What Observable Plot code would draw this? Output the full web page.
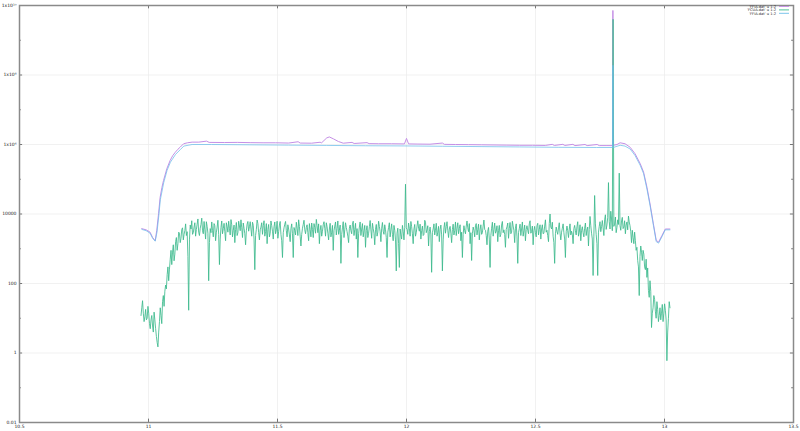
<!DOCTYPE html>
<html><head><meta charset="utf-8">
<script src="https://cdn.jsdelivr.net/npm/d3@7"></script>
<script src="https://cdn.jsdelivr.net/npm/@observablehq/plot@0.6"></script>
<style>
html,body{margin:0;padding:0;background:#fff;}
#wrap{width:800px;height:431px;}
</style></head><body><div id="wrap"></div>
<script>
const xTicks = [10.5, 11, 11.5, 12, 12.5, 13, 13.5];
const yTicks = [0.01, 1, 100, 1e4, 1e6, 1e8, 1e10];
const yTickLabels = ["0.01", "1", "100", "10000", "1x10\u2076", "1x10\u2078", "1x10\u00b9\u2070"];
const yMinorTicks = [0.1, 10, 1000, 1e5, 1e7, 1e9];
const seriesNames = ["'FFIA.dat' u 1:2", "'FCUA.dat' u 1:2", "'FFIA.dat' u 1:2"];
const seriesColors = ["#c58fe6", "#3cb98c", "#6cbde9"];

// series 1 (purple)
const ffiaX = [10.974,10.979,10.991,11.006,11.016,11.026,11.032,11.039,11.045,11.052,11.058,11.071,11.084,11.094,11.104,11.114,11.123,11.136,11.151,11.169,
11.195,11.225,11.235,11.294,11.344,11.394,11.444,11.493,11.543,11.580,11.588,11.632,11.665,11.671,11.691,11.701,11.717,11.736,11.755,11.789,11.797,
11.847,11.855,11.892,11.942,11.992,12.000,12.008,12.041,12.091,12.139,12.147,12.190,12.240,12.290,12.339,12.389,12.439,12.488,12.538,12.565,12.573,
12.606,12.614,12.645,12.653,12.692,12.700,12.739,12.747,12.777,12.7985,12.800,12.8015,12.816,12.828,12.847,12.867,12.886,12.906,12.919,12.932,12.944,
12.957,12.968,12.977,12.990,13.003,13.021];
const ffiaY = [3800,3700,3500,3000,2100,1700,3400,10200,30000,58000,91000,200000,350000,480000,600000,730000,840000,1050000,1120000,1170000,
1170000,1250000,1150000,1140000,1150000,1130000,1120000,1120000,1100000,1200000,1100000,1090000,1160000,1120000,1550000,1650000,1450000,1220000,1090000,1150000,1070000,
1130000,1060000,1050000,1050000,1040000,1500000,1040000,1030000,1020000,1100000,1010000,1000000,990000,980000,970000,960000,950000,950000,940000,1010000,940000,
1010000,940000,1010000,930000,1000000,930000,1000000,930000,930000,930000,7.2e9,950000,1000000,1120000,1050000,830000,540000,280000,160000,59000,19500,
5200,1740,1550,2400,3700,3700];

// series 2 (green), sampled every fcuaStep from fcuaX0
const fcuaX0 = 10.971, fcuaStep = 0.00298;
const fcuaY = [
12,20,32,14,8,11,18,9,10,22,14,7,5,9,12,6,4,15,9,5,
3,2,1.5,4,8,20,12,7,30,45,22,60,90,70,180,300,120,260,500,900,
350,800,1300,450,700,1600,2100,900,1400,3000,2800,1500,2000,3600,4000,1800,2600,3300,5200,2400,
3100,600,17,1800,4800,3700,6400,2600,2900,4200,5600,2300,3600,5100,7200,3000,2400,3900,5000,7600,
3300,2700,6100,3500,1900,6000,4400,2800,120,1500,3800,2900,5900,3300,2200,5300,4600,1700,3000,4200,
6600,2600,350,1900,4100,6300,2700,3800,5400,3100,1700,5600,4300,3000,6200,3900,2500,6900,4900,2200,
3400,4800,1500,3600,5700,2400,2900,6200,4500,3300,6800,4000,2100,5500,3900,2700,1300,3300,5100,6100,
3200,4300,6000,3700,2300,5800,4700,1900,250,2400,3600,6700,5300,2900,1800,3500,4200,5600,2600,4600,
6400,2300,3100,5300,1400,3600,5000,2200,2800,6300,4600,3200,1900,4300,5900,2700,3500,6200,2000,3100,
4800,6100,2600,1700,560,2900,4000,5100,6100,3300,2200,4900,3700,2500,1600,3800,5200,2700,560,4100,
3300,2500,5800,3900,2400,6800,4400,2300,1200,2600,3900,5000,6600,3500,2700,4100,4900,2900,1700,5300,
3600,2200,5500,3600,2100,5300,4100,2800,7000,4600,2900,5200,1400,3400,4700,2300,3200,4900,6000,3900,
2300,5600,4300,2800,1800,3700,5400,2200,3000,4700,900,3300,4500,5900,2500,3800,6300,2600,3400,4800,
380,2600,4000,6000,2100,3500,5600,4100,3100,2300,1500,3900,4800,3300,2700,5100,6200,2400,3600,5400,
1900,3800,560,2700,4200,5900,2400,3700,5300,2200,3300,4700,1100,3400,4600,2100,2800,4300,6500,3500,
2000,5400,3800,2800,1300,3600,5000,2300,3000,6200,4400,3100,1600,3900,5700,3200,2600,4900,3500,2100,
560,3000,4100,5600,2200,3500,5200,2600,1700,4700,3400,1800,230,2800,3900,1400,290,3700,2500,1900,
4700,3200,1800,4100,72000,4000,3600,2600,5500,3900,2300,6100,4300,2700,1400,3700,5000,2300,2900,4500,
6400,3900,3200,5100,1900,3300,4500,2400,2600,6600,5800,2900,3500,4600,1200,3100,4200,2500,210,2900,
3700,5200,2500,3400,5400,2300,3000,4400,1600,3600,4800,2500,230,1800,4000,5700,2800,4300,6000,3400,
2100,3700,4400,2800,1500,3600,5100,2500,3300,5900,2400,3900,5600,2700,3800,4900,1700,3000,560,2600,
4600,3300,2700,4500,6300,4000,3100,5300,1400,2900,460,2700,4200,3400,2200,4600,5300,2500,3600,5100,
1800,3500,4900,2600,2900,4500,6700,3600,3400,2400,1300,3200,4100,1900,290,2400,3900,5800,2300,3600,
5500,2800,3200,4600,1600,3300,4700,2200,2600,4800,6100,2900,3500,2600,1100,3600,4300,5500,2000,3800,
5700,2700,3000,6200,4500,3400,1500,3900,5200,2200,380,2900,3800,5100,2400,3700,5900,2300,3300,4800,
1700,3600,4600,3400,2700,5200,6400,2800,3100,4500,1300,3300,4400,2900,2200,4600,5400,2500,3600,4900,
1900,3700,4900,2700,2800,4500,6800,3000,3400,2400,1600,5300,10000,4200,3700,5800,2300,1500,380,2700,
4200,3200,2600,4000,5600,2800,1800,3000,3900,5200,2900,1900,560,3100,4500,3300,2100,3700,5200,2500,
3200,2600,1400,3800,4700,3300,2500,4300,6000,2300,3000,4900,1700,3400,4300,2900,2200,3900,5500,2400,
3500,4200,1200,3600,8500,4600,2800,1900,170,2300,34000,5200,2600,1400,170,3000,4400,6000,3100,4300,
6500,4000,2400,6800,9500,3600,4800,7800,80000,6000,3700,12000,7200,3300,4.0e9,4400,5100,8200,2900,4100,
6800,5000,150000,4600,3400,6300,8000,3800,4200,6400,2700,4800,5900,3500,8700,5900,4600,3100,1500,3400,
2100,1400,3000,1700,900,1100,460,300,45,600,1200,800,460,900,700,300,250,500,150,280,
63,40,120,60,5.4,14,20,45,35,16,10,30,18,8,12,20,9,14,25,8,
14,26,17,9,0.6,4,10,30,20];

// series 3 (blue)
const ffibX = [10.974,10.991,11.006,11.016,11.026,11.033,11.040,11.046,11.059,11.072,11.085,11.105,11.124,11.137,11.169,11.244,11.393,11.543,11.691,11.841,
11.991,12.140,12.289,12.439,12.588,12.737,12.7985,12.800,12.8015,12.828,12.847,12.867,12.886,12.906,12.919,12.932,12.944,12.957,12.968,12.977,12.990,13.003,13.021];
const ffibY = [3600,3300,2800,2000,1650,3000,9000,26000,80000,180000,310000,520000,720000,900000,1000000,1000000,980000,960000,940000,920000,
910000,890000,870000,850000,830000,820000,820000,1.9e8,820000,950000,900000,740000,480000,250000,145000,52000,17500,4700,1600,1450,2200,3500,3500];

const s1 = ffiaX.map((x, i) => ({x, y: ffiaY[i]}));
const s2 = fcuaY.map((y, i) => ({x: fcuaX0 + i * fcuaStep, y}));
const s3 = ffibX.map((x, i) => ({x, y: ffibY[i]}));

const chart = Plot.plot({
  width: 800, height: 431,
  marginLeft: 19, marginRight: 7, marginTop: 5, marginBottom: 9,
  style: {fontSize: "4.5px", fontFamily: "DejaVu Sans, sans-serif", color: "#222", background: "#fff"},
  x: {domain: [10.5, 13.5], ticks: xTicks, tickFormat: d => String(d), tickSize: 0, tickPadding: 2.5, label: null},
  y: {type: "log", domain: [0.01, 1e10], ticks: yTicks, tickFormat: d => yTickLabels[yTicks.indexOf(d)], tickSize: 0, tickPadding: 3, label: null},
  marks: [
    Plot.gridX(xTicks, {stroke: "#ededed", strokeOpacity: 1, strokeWidth: 0.8}),
    Plot.gridY(yTicks, {stroke: "#ededed", strokeOpacity: 1, strokeWidth: 0.8}),
    Plot.ruleY(yTicks, {x1: 10.5, x2: 10.512, stroke: "#555", strokeWidth: 0.8}),
    Plot.ruleY(yTicks, {x1: 13.488, x2: 13.5, stroke: "#555", strokeWidth: 0.8}),
    Plot.ruleY(yMinorTicks, {x1: 10.5, x2: 10.507, stroke: "#555", strokeWidth: 0.8}),
    Plot.ruleY(yMinorTicks, {x1: 13.493, x2: 13.5, stroke: "#555", strokeWidth: 0.8}),
    Plot.ruleX(xTicks, {y1: 0.01, y2: 0.0125, stroke: "#555", strokeWidth: 0.8}),
    Plot.ruleX(xTicks, {y1: 8e9, y2: 1e10, stroke: "#555", strokeWidth: 0.8}),
    Plot.line(s1, {x: "x", y: "y", stroke: seriesColors[0], strokeWidth: 1}),
    Plot.line(s2, {x: "x", y: "y", stroke: seriesColors[1], strokeWidth: 0.85}),
    Plot.line(s3, {x: "x", y: "y", stroke: seriesColors[2], strokeWidth: 1, strokeOpacity: 0.75}),
    Plot.frame({stroke: "#8a8a8a", strokeWidth: 1.5})
  ]
});
document.getElementById("wrap").appendChild(chart);

// legend (top right, inside frame)
const svg = d3.select(chart);
const lg = svg.append("g").attr("font-family", "DejaVu Sans, sans-serif").attr("font-size", "3.6px").attr("fill", "#222");
seriesNames.forEach((name, i) => {
  const yy = 6.5 + i * 3.4;
  lg.append("text").attr("x", 776).attr("y", yy).attr("dy", "0.35em").attr("text-anchor", "end").text(name);
  lg.append("line").attr("x1", 779).attr("x2", 789).attr("y1", yy).attr("y2", yy)
    .attr("stroke", seriesColors[i]).attr("stroke-width", 0.9);
});
</script>
</body></html>
